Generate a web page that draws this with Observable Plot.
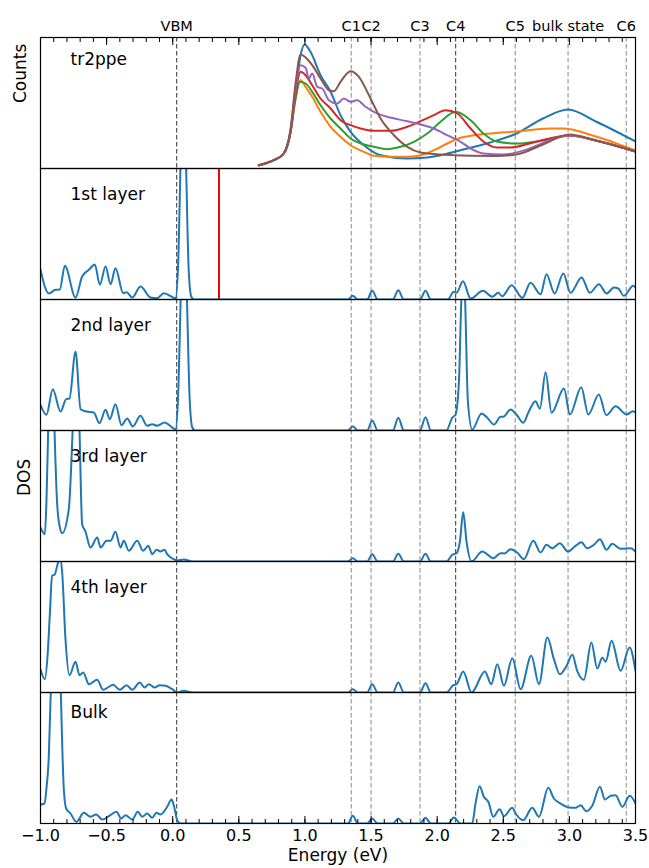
<!DOCTYPE html>
<html><head><meta charset="utf-8">
<script src="https://cdn.jsdelivr.net/npm/d3@7"></script>
<script src="https://cdn.jsdelivr.net/npm/@observablehq/plot@0.6"></script>
<style>body{margin:0;background:#fff}svg{display:block}</style>
</head><body><div id="chart"></div>
<script>
const panels = ["tr2ppe", "1st layer", "2nd layer", "3rd layer", "4th layer", "Bulk"];
const markerNames = ["VBM", "C1", "C2", "C3", "C4", "C5", "bulk state", "C6"];
const markerEnergies = [0.03, 1.35, 1.50, 1.87, 2.14, 2.59, 2.99, 3.43];
const majorTicks = [-1.0, -0.5, 0.0, 0.5, 1.0, 1.5, 2.0, 2.5, 3.0, 3.5];
const minorTicks = d3.range(-10, 36).map(i => i / 10);
const pumpEnergy = [0.35];

// tr2ppe spectra (arb. units)
const trBlue = [[0.651,3.3],[0.70,5],[0.765,8.3],[0.84,15],[0.891,36.7],[0.929,76.7],[0.967,113.3],[0.997,124],[1.042,116.7],[1.118,93.3],[1.194,76.7],[1.269,53.3],[1.345,36.7],[1.446,23.3],[1.572,13.3],[1.774,10],[1.9,10.7],[2.026,13.3],[2.228,20],[2.4,26],[2.6,35],[2.8,50],[2.99,59],[3.2,47],[3.5,27]];
const trOrange = [[0.651,3.3],[0.70,5],[0.765,8.3],[0.84,15],[0.891,36],[0.929,70],[0.967,88.3],[1.005,81.7],[1.055,71.7],[1.118,56.7],[1.194,41.7],[1.269,31.7],[1.345,23.3],[1.446,16.7],[1.521,12.7],[1.647,11.7],[1.774,11.7],[1.874,13.3],[1.975,18.3],[2.076,25],[2.177,30.7],[2.253,32.7],[2.4,35],[2.6,37],[2.85,40],[2.95,40],[3.2,32],[3.5,18]];
const trGreen = [[0.651,3.3],[0.70,5],[0.765,8.3],[0.84,15],[0.891,36],[0.929,70],[0.961,86.7],[1.005,85],[1.055,76.7],[1.118,63.3],[1.194,50],[1.269,40],[1.345,30],[1.421,25],[1.521,21.7],[1.622,19.3],[1.723,21.7],[1.824,26.7],[1.925,35],[2.026,46.7],[2.139,56.7],[2.253,48.3],[2.35,35],[2.45,27],[2.6,25],[2.8,28],[3.0,33],[3.2,28],[3.5,17]];
const trRed = [[0.651,3.3],[0.70,5],[0.765,8.3],[0.84,15],[0.891,37],[0.929,75],[0.967,96.7],[1.005,93.3],[1.055,83.3],[1.118,70],[1.194,60],[1.269,48.3],[1.345,43.3],[1.421,40],[1.521,37.7],[1.647,37.7],[1.774,41.7],[1.874,47.3],[1.975,53.3],[2.063,58.3],[2.152,55],[2.253,40],[2.35,27],[2.45,21],[2.55,21],[2.7,25],[2.85,30],[3.0,33],[3.2,28],[3.5,17]];
const trPurple = [[0.651,3.3],[0.70,5],[0.765,8.3],[0.84,15],[0.891,38],[0.929,80],[0.967,103.3],[1.005,100.7],[1.03,90],[1.055,95],[1.093,81.7],[1.131,80],[1.181,68.3],[1.244,65],[1.294,70],[1.345,66.7],[1.395,68.3],[1.458,61.7],[1.521,56.7],[1.622,51.7],[1.774,47.3],[1.874,44],[1.975,40],[2.076,33.3],[2.177,26.7],[2.253,20],[2.35,15],[2.5,14],[2.7,20],[2.85,28],[3.0,33],[3.2,28],[3.5,17]];
const trBrown = [[0.651,3.3],[0.70,5],[0.765,8.3],[0.84,15],[0.891,39],[0.929,85],[0.967,114],[1.005,111],[1.055,103.3],[1.118,90],[1.181,78.3],[1.219,77.3],[1.269,86.7],[1.345,97.3],[1.408,91.7],[1.496,70],[1.572,50],[1.673,33.3],[1.774,21.7],[1.874,16],[2.026,14],[2.253,12.7],[2.45,12.5],[2.6,14],[2.8,24],[3.0,34],[3.2,28],[3.5,17]];

// layer-resolved DOS (arb. units)
const dos1st = [[-1.0,30],[-0.97,14],[-0.937,6],[-0.887,9.7],[-0.854,10],[-0.816,33.7],[-0.735,2],[-0.685,23],[-0.634,29.7],[-0.589,35],[-0.551,14.7],[-0.508,33],[-0.470,15.3],[-0.433,31.3],[-0.374,6.3],[-0.349,7.3],[-0.306,2],[-0.244,13],[-0.168,2],[-0.117,1.3],[-0.067,6.3],[0.021,1.3],[0.04,32],[0.06,140],[0.08,240],[0.10,140],[0.12,32],[0.14,3],[0.16,0],[1.325,0],[1.362,3.7],[1.40,0],[1.47,0],[1.509,8.7],[1.55,0],[1.665,0],[1.706,9.3],[1.748,0],[1.87,0],[1.912,8.7],[1.952,0],[2.08,0],[2.126,7.7],[2.147,6.7],[2.195,18.3],[2.253,1],[2.346,8.7],[2.417,2.7],[2.462,6.7],[2.492,3.3],[2.563,14.3],[2.644,1.7],[2.706,16.7],[2.782,5.3],[2.827,25.3],[2.888,6],[2.954,26],[3.009,6.7],[3.092,22],[3.155,6.7],[3.223,15.3],[3.281,6],[3.337,12],[3.37,11],[3.412,3.7],[3.483,13.7],[3.5,12]];
const dos2nd = [[-1.0,25.7],[-0.955,15.7],[-0.907,41.3],[-0.849,19],[-0.806,31.3],[-0.781,32],[-0.735,78.7],[-0.697,21.3],[-0.652,19],[-0.597,18],[-0.554,7.3],[-0.508,20.7],[-0.476,11.3],[-0.433,26.3],[-0.387,5.3],[-0.344,12],[-0.302,4],[-0.244,14.7],[-0.193,4.7],[-0.155,6.3],[-0.117,4.7],[-0.062,8],[0.021,1.3],[0.04,32],[0.062,140],[0.084,240],[0.106,140],[0.128,32],[0.148,3],[0.17,0],[1.325,0],[1.362,4.3],[1.40,0],[1.47,0],[1.509,10],[1.55,0],[1.665,0],[1.706,12.7],[1.748,0],[1.87,0],[1.912,13.3],[1.952,0],[2.07,0],[2.114,12.7],[2.139,16],[2.165,50],[2.183,131],[2.197,160],[2.211,131],[2.232,30],[2.265,1],[2.336,17],[2.379,12.7],[2.429,6],[2.48,13.7],[2.50,13.7],[2.555,21],[2.605,15],[2.651,7.7],[2.693,19],[2.744,29.3],[2.777,21.7],[2.820,58.3],[2.865,17.7],[2.959,42],[3.004,16],[3.090,43.3],[3.143,16],[3.223,36],[3.279,15.3],[3.350,24.3],[3.433,16],[3.480,19.3],[3.5,18]];
const dos3rd = [[-1.0,34],[-0.967,27.3],[-0.955,60],[-0.942,131],[-0.918,260],[-0.894,131],[-0.875,60],[-0.855,35],[-0.836,28.3],[-0.786,52.3],[-0.757,131],[-0.73,230],[-0.705,131],[-0.685,37.3],[-0.66,30],[-0.622,14],[-0.571,24],[-0.546,14],[-0.501,20.7],[-0.470,20.7],[-0.433,29.7],[-0.395,14],[-0.370,20.7],[-0.332,10.7],[-0.269,20.7],[-0.223,10.7],[-0.185,15.7],[-0.155,7.3],[-0.123,11.7],[-0.092,10],[-0.062,11.7],[-0.042,7.3],[0.008,2.3],[0.034,1],[0.084,2],[0.15,0],[1.325,0],[1.362,3.3],[1.40,0],[1.47,0],[1.509,7.3],[1.55,0],[1.665,0],[1.706,7.7],[1.748,0],[1.87,0],[1.912,7.7],[1.952,0],[2.07,0],[2.114,6.7],[2.147,8.3],[2.172,20],[2.197,49.3],[2.222,20],[2.260,0],[2.341,10],[2.424,3.3],[2.480,8.3],[2.51,8],[2.555,12.3],[2.605,9],[2.656,2.3],[2.727,20.7],[2.782,9],[2.827,16.7],[2.870,13.3],[2.928,18.3],[2.989,10],[3.047,15.7],[3.090,19.3],[3.135,13.3],[3.186,16.7],[3.231,22.3],[3.281,11.7],[3.324,17.7],[3.387,12.7],[3.463,13.3],[3.5,10]];
const dos4th = [[-1.0,23.3],[-0.967,13.3],[-0.945,40],[-0.930,76.7],[-0.912,116.7],[-0.892,118],[-0.874,126.7],[-0.854,135],[-0.836,120],[-0.811,53.3],[-0.781,17.3],[-0.735,30.7],[-0.705,17.3],[-0.677,20],[-0.634,8.3],[-0.571,12.7],[-0.526,2.7],[-0.450,7.7],[-0.400,2.7],[-0.349,7.3],[-0.306,2.7],[-0.249,10],[-0.213,5],[-0.181,8.3],[-0.138,5],[-0.098,7.3],[-0.054,6.7],[-0.004,3.3],[0.034,0],[0.084,1.7],[0.15,0],[1.325,0],[1.362,3.3],[1.40,0],[1.47,0],[1.509,8.3],[1.55,0],[1.665,0],[1.706,10],[1.748,0],[1.87,0],[1.912,9.3],[1.952,0],[2.07,0],[2.122,7.3],[2.147,8.3],[2.197,21],[2.260,0],[2.361,21],[2.409,8.3],[2.455,28.3],[2.505,6.7],[2.568,34.3],[2.631,3.3],[2.712,36.7],[2.770,8.3],[2.833,55],[2.883,33.3],[2.928,18.3],[2.979,26.7],[3.022,37.7],[3.059,21.7],[3.110,12.7],[3.166,50],[3.211,24],[3.249,35],[3.274,30.7],[3.319,51.7],[3.387,21.7],[3.455,45],[3.5,21.7]];
const dosBulk = [[-1.0,19],[-0.97,20],[-0.955,35],[-0.937,68.3],[-0.925,120],[-0.91,170],[-0.883,200],[-0.855,170],[-0.845,125],[-0.835,75],[-0.824,35],[-0.806,15],[-0.773,10],[-0.728,1.7],[-0.672,10.7],[-0.622,6.7],[-0.579,9],[-0.533,4],[-0.483,7.3],[-0.425,11.7],[-0.390,5],[-0.357,8.3],[-0.306,4],[-0.264,11.7],[-0.231,6.7],[-0.193,10],[-0.155,5.7],[-0.123,10.7],[-0.092,9],[-0.042,16.7],[-0.009,24],[0.008,18.3],[0.034,3.3],[0.059,0],[1.325,0],[1.362,7.7],[1.40,0],[1.47,0],[1.509,5],[1.55,0],[1.665,0],[1.706,5],[1.748,0],[1.87,0],[1.912,5.7],[1.952,0],[2.085,0],[2.126,6],[2.177,0],[2.265,0],[2.290,20],[2.321,37.3],[2.353,26.7],[2.387,21.7],[2.424,6.7],[2.472,14.3],[2.505,7.3],[2.568,15.7],[2.593,10],[2.651,3.3],[2.719,15.7],[2.770,6.7],[2.840,35.7],[2.883,25],[2.933,20],[2.996,16],[3.047,15.7],[3.085,18.3],[3.128,12.3],[3.173,17.7],[3.231,36.7],[3.269,24],[3.312,27.7],[3.350,28.3],[3.400,16.7],[3.457,27.7],[3.5,20]];

const series = [
  ["tr2ppe", "b", "#1f77b4", trBlue], ["tr2ppe", "o", "#ff7f0e", trOrange], ["tr2ppe", "g", "#2ca02c", trGreen],
  ["tr2ppe", "r", "#d62728", trRed], ["tr2ppe", "p", "#9467bd", trPurple], ["tr2ppe", "br", "#8c564b", trBrown],
  ["1st layer", "d1", "#1f77b4", dos1st], ["2nd layer", "d2", "#1f77b4", dos2nd], ["3rd layer", "d3", "#1f77b4", dos3rd],
  ["4th layer", "d4", "#1f77b4", dos4th], ["Bulk", "d5", "#1f77b4", dosBulk]
];
const rows = [];
for (const [panel, id, color, pts] of series) for (const [e, v] of pts) rows.push({panel, id, color, e, v});
const markers = markerNames.map((name, i) => ({name, e: markerEnergies[i]}));
const markerColor = ["#333", "#888", "#888", "#888", "#333", "#888", "#888", "#888"];

const font = "DejaVu Sans";
const chart = Plot.plot({
  width: 649, height: 868,
  marginLeft: 40, marginRight: 14, marginTop: 36, marginBottom: 45,
  style: {fontFamily: font, fontSize: "16px", background: "#fff", color: "#000"},
  x: {domain: [-1, 3.5], axis: null},
  y: {domain: [0, 131], axis: null},
  fy: {domain: panels, padding: 0, axis: null},
  color: {type: "identity"},
  marks: [
    Plot.ruleX(markers, {x: "e", stroke: (d, i) => markerColor[i], strokeWidth: 1, strokeDasharray: "4.5,2.5"}),
    Plot.ruleX(pumpEnergy.map(e => ({e, panel: "1st layer"})), {x: "e", fy: "panel", stroke: "#ff0000", strokeWidth: 2}),
    Plot.line(rows, {x: "e", y: "v", fy: "panel", z: "id", stroke: "color", strokeWidth: 2, curve: "monotone-x", clip: true}),
    Plot.frame({stroke: "#000", strokeWidth: 1.2}),
    Plot.axisX(minorTicks, {anchor: "bottom", tickSize: -4, fill: "none", label: null}),
    Plot.axisX(majorTicks, {anchor: "bottom", tickSize: -7, tickPadding: 13, tickFormat: d3.format(".1f"), fontSize: 16, label: null}),
    Plot.axisX(minorTicks, {anchor: "top", tickSize: -4, fill: "none", label: null}),
    Plot.axisX(majorTicks, {anchor: "top", tickSize: -7, fill: "none", label: null}),
    Plot.text(markers.map(d => ({...d, panel: "tr2ppe"})), {x: "e", fy: "panel", text: "name", frameAnchor: "top", dy: -16.5, fontSize: 14.5}),
    Plot.text(panels.filter(p => p !== "tr2ppe" && p !== "Bulk"), {fy: d => d, text: d => d, frameAnchor: "top-left", dx: 30, dy: 26, textAnchor: "start", lineAnchor: "middle", fontSize: 17}),
    Plot.text(["tr2ppe"], {fy: d => d, text: d => d, frameAnchor: "top-left", dx: 30, dy: 22, textAnchor: "start", lineAnchor: "middle", fontSize: 17}),
    Plot.text(["Bulk"], {fy: d => d, text: d => d, frameAnchor: "top-left", dx: 30, dy: 20, textAnchor: "start", lineAnchor: "middle", fontSize: 17}),
    Plot.text(["Counts"], {fy: () => "tr2ppe", text: d => d, frameAnchor: "left", dx: -20, rotate: -90, fontSize: 17}),
    Plot.text(["DOS"], {fy: () => "3rd layer", text: d => d, frameAnchor: "left", dx: -16, rotate: -90, fontSize: 17}),
    Plot.text(["Energy (eV)"], {fy: () => "Bulk", text: d => d, frameAnchor: "bottom", dy: 37.5, fontSize: 17})
  ]
});
document.getElementById("chart").appendChild(chart);
</script>
</body></html>
